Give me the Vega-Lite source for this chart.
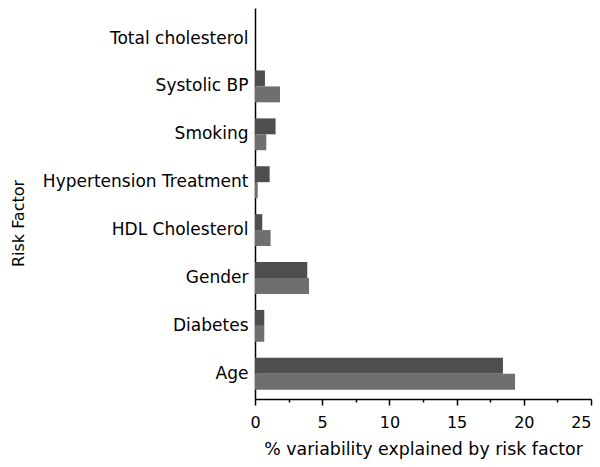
{
  "$schema": "https://vega.github.io/schema/vega-lite/v6.json",
  "autosize": "none",
  "width": 336,
  "height": 391,
  "padding": {"left": 255, "top": 8, "right": 9, "bottom": 68},
  "background": "white",
  "config": {
    "view": {"stroke": null},
    "font": "DejaVu Sans",
    "axis": {"grid": false, "domainColor": "#000000", "tickColor": "#000000", "labelColor": "#000000", "titleColor": "#000000", "domainWidth": 1.5, "tickWidth": 1.5}
  },
  "data": {
    "values": [
      {"factor": "Total cholesterol", "series": "A", "value": 0},
      {"factor": "Total cholesterol", "series": "B", "value": 0},
      {"factor": "Systolic BP", "series": "A", "value": 0.74},
      {"factor": "Systolic BP", "series": "B", "value": 1.86},
      {"factor": "Smoking", "series": "A", "value": 1.53},
      {"factor": "Smoking", "series": "B", "value": 0.84},
      {"factor": "Hypertension Treatment", "series": "A", "value": 1.09},
      {"factor": "Hypertension Treatment", "series": "B", "value": 0.2},
      {"factor": "HDL Cholesterol", "series": "A", "value": 0.54},
      {"factor": "HDL Cholesterol", "series": "B", "value": 1.16},
      {"factor": "Gender", "series": "A", "value": 3.89},
      {"factor": "Gender", "series": "B", "value": 4.02},
      {"factor": "Diabetes", "series": "A", "value": 0.69},
      {"factor": "Diabetes", "series": "B", "value": 0.69},
      {"factor": "Age", "series": "A", "value": 18.45},
      {"factor": "Age", "series": "B", "value": 19.35}
    ]
  },
  "layer": [
    {
      "mark": {"type": "bar"},
      "encoding": {
        "y": {
          "field": "factor", "type": "nominal", "sort": null,
          "scale": {"paddingInner": 0.335, "paddingOuter": 0.25, "align": 0.61},
          "axis": {"title": "Risk Factor", "ticks": false, "labelPadding": 7, "labelFontSize": 17, "titleFontSize": 16, "titleFontWeight": "normal", "titleX": -229, "titleY": 215, "labelLimit": 300}
        },
        "yOffset": {"field": "series", "type": "nominal"},
        "x": {
          "field": "value", "type": "quantitative",
          "scale": {"domain": [0, 25], "nice": false},
          "axis": {"values": [0, 5, 10, 15, 20, 25], "tickSize": 6, "labelPadding": 9, "labelFontSize": 16, "labelAlign": {"expr": "datum.value == 25 ? 'right' : 'center'"}, "title": "% variability explained by risk factor", "titleFontSize": 17.4, "titleFontWeight": "normal", "titlePadding": 10, "labelFlush": false}
        },
        "color": {
          "field": "series", "type": "nominal",
          "scale": {"domain": ["A", "B"], "range": ["#4e4e4e", "#6f6f6f"]},
          "legend": null
        }
      }
    },
    {
      "mark": {"type": "rule", "opacity": 0},
      "data": {"values": [{"v": 2.5}]},
      "encoding": {
        "x": {
          "field": "v", "type": "quantitative",
          "axis": {"orient": "bottom", "values": [2.5, 7.5, 12.5, 17.5, 22.5], "tickSize": 3, "labels": false, "domain": false, "title": null}
        }
      }
    }
  ],
  "resolve": {"axis": {"x": "independent"}}
}
